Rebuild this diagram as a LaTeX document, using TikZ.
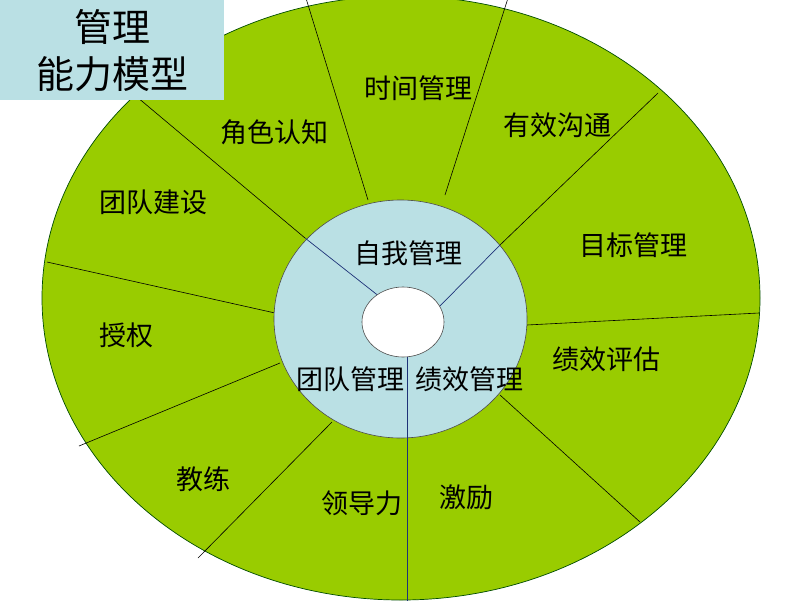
\documentclass[tikz,border=0pt]{standalone}
\usepackage{fontspec}
\setmainfont{Noto Sans CJK SC}
\definecolor{ringgreen}{RGB}{153,204,0}
\definecolor{paleblue}{RGB}{186,224,228}
\definecolor{spokeblue}{RGB}{30,50,120}
\begin{document}
\begin{tikzpicture}[x=1pt,y=-1pt,
  seglabel/.style={font=\fontsize{27}{30}\selectfont, inner sep=0pt},
  spoke/.style={draw=black, line width=0.6pt},
  innerspoke/.style={draw=spokeblue, line width=0.7pt}]
\useasboundingbox (0,0) rectangle (800,600);
\clip (0,0) rectangle (800,600);
% outer green ellipse
\fill[ringgreen, draw=black!70!green, line width=0.7pt] (401,298) ellipse [x radius=359, y radius=302];
% spoke end coordinates
\coordinate (a1) at (368,200); \coordinate (a2) at (305,-5);
\coordinate (b1) at (445,195); \coordinate (b2) at (509,-5);
\coordinate (c1) at (305,238); \coordinate (c2) at (137,97);
\coordinate (d1) at (500,245); \coordinate (d2) at (658,93);
\coordinate (e1) at (275,313); \coordinate (e2) at (47,262);
\coordinate (f1) at (280,363); \coordinate (f2) at (79,446);
\coordinate (g1) at (332,422); \coordinate (g2) at (198,558);
\coordinate (h1) at (527,325); \coordinate (h2) at (759,313);
\coordinate (k1) at (500,395); \coordinate (k2) at (640,522);
\foreach \s in {a,b,c,d,e,f,g,h,k} {\draw[spoke] (\s1) -- (\s2);}
% light blue ring
\fill[paleblue, draw=black!70, line width=0.6pt] (400.5,319) ellipse [x radius=126.5, y radius=119];
% inner spokes
\coordinate (i1) at (380,297);
\coordinate (i2) at (439,307);
\coordinate (i3) at (407,357); \coordinate (i4) at (407,605);
\draw[innerspoke] (i1) -- (c1);
\draw[innerspoke] (i2) -- (d1);
\draw[innerspoke] (i3) -- (i4);
% white hole
\fill[white, draw=black!70, line width=0.6pt] (403,322) ellipse [x radius=41, y radius=35];
% segment labels
\node[seglabel] (l1) at (274,132) {角色认知};
\node[seglabel] (l2) at (418,88) {时间管理};
\node[seglabel] (l3) at (557,125) {有效沟通};
\node[seglabel] (l4) at (633,245) {目标管理};
\node[seglabel] (l5) at (153,202) {团队建设};
\node[seglabel] (l6) at (126,335) {授权};
\node[seglabel] (l7) at (203,479) {教练};
\node[seglabel] (l8) at (362,503) {领导力};
\node[seglabel] (l9) at (466,497) {激励};
\node[seglabel] (l10) at (606,359) {绩效评估};
\node[seglabel] (m1) at (408,253) {自我管理};
\node[seglabel] (m2) at (350,379) {团队管理};
\node[seglabel] (m3) at (469,379) {绩效管理};
% title box
\fill[paleblue] (0,0) rectangle (224,100);
\node[font=\fontsize{38}{47}\selectfont, align=center, inner sep=0pt] (title) at (112,51) {管理\\能力模型};
\end{tikzpicture}
\end{document}
